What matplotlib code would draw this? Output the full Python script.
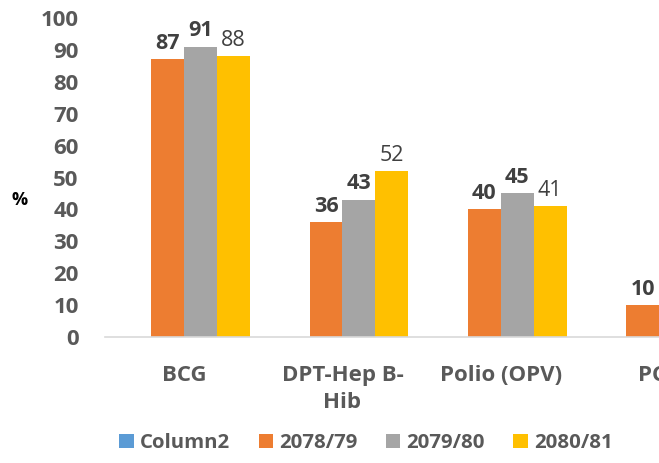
import numpy as np
import matplotlib
matplotlib.use("Agg")
import matplotlib.pyplot as plt
from matplotlib.patches import Patch

plt.rcParams['font.family'] = ['Open Sans', 'DejaVu Sans']

# data
categories = ["BCG", "DPT-Hep B-\nHib", "Polio (OPV)", "PCV"]
series_names = ["Column2", "2078/79", "2079/80", "2080/81"]
col2 = [0, 0, 0, 0]
v_7879 = [87, 36, 40, 10]
v_7980 = [91, 43, 45, 12]
v_8081 = [88, 52, 41, 11]
colors = ["#5B9BD5", "#ED7D31", "#A5A5A5", "#FFC000"]
label_bold = [True, True, True, False]

txt_col = "#595959"

fig = plt.figure(figsize=(6.59, 4.63), dpi=100)
ax = fig.add_axes([105/659, 126/463, 554/659, 319/463])

x = np.arange(len(categories))
w = 0.208
all_vals = [col2, v_7879, v_7980, v_8081]
for i, (vals, c) in enumerate(zip(all_vals, colors)):
    pos = x + (i - 1.5) * w
    bars = ax.bar(pos, vals, width=w, color=c, linewidth=0)
    if i == 0:
        continue
    for b, v in zip(bars, vals):
        ax.annotate(str(v), (b.get_x() + b.get_width()/2, v),
                    xytext=(0, 4), textcoords="offset points",
                    ha="center", va="bottom", fontsize=15.5,
                    fontweight="bold" if label_bold[i] else "normal",
                    color="#404040", annotation_clip=False)

ax.set_xlim(-0.5, -0.5 + 554/161)
ax.set_ylim(0, 100)
ax.set_yticks(range(0, 101, 10))
ax.set_xticks(x)
ax.set_xticklabels(categories, fontsize=16, fontweight="bold", color=txt_col,
                   linespacing=1.4)
for lab in ax.get_yticklabels():
    lab.set_fontweight("bold")
ax.tick_params(axis="y", length=0, pad=19, labelsize=16, labelcolor=txt_col)
ax.tick_params(axis="x", length=0, pad=20)
for s in ["top", "right", "left"]:
    ax.spines[s].set_visible(False)
ax.spines["bottom"].set_color("#D9D9D9")
ax.spines["bottom"].set_linewidth(1.2)

fig.text(20/659, 1 - 200/463, "%", fontsize=13, fontweight="bold",
         ha="center", va="center", color="black")

handles = [Patch(facecolor=c, edgecolor="none") for c in colors]
fig.legend(handles, series_names, loc="center", bbox_to_anchor=(366/659, 1 - 443/463),
           ncol=4, frameon=False, handlelength=0.7, handleheight=0.7,
           handletextpad=0.3, columnspacing=1.4,
           prop={"size": 14.7, "weight": "bold"}, labelcolor=txt_col)

fig.savefig("out.png", dpi=100)
